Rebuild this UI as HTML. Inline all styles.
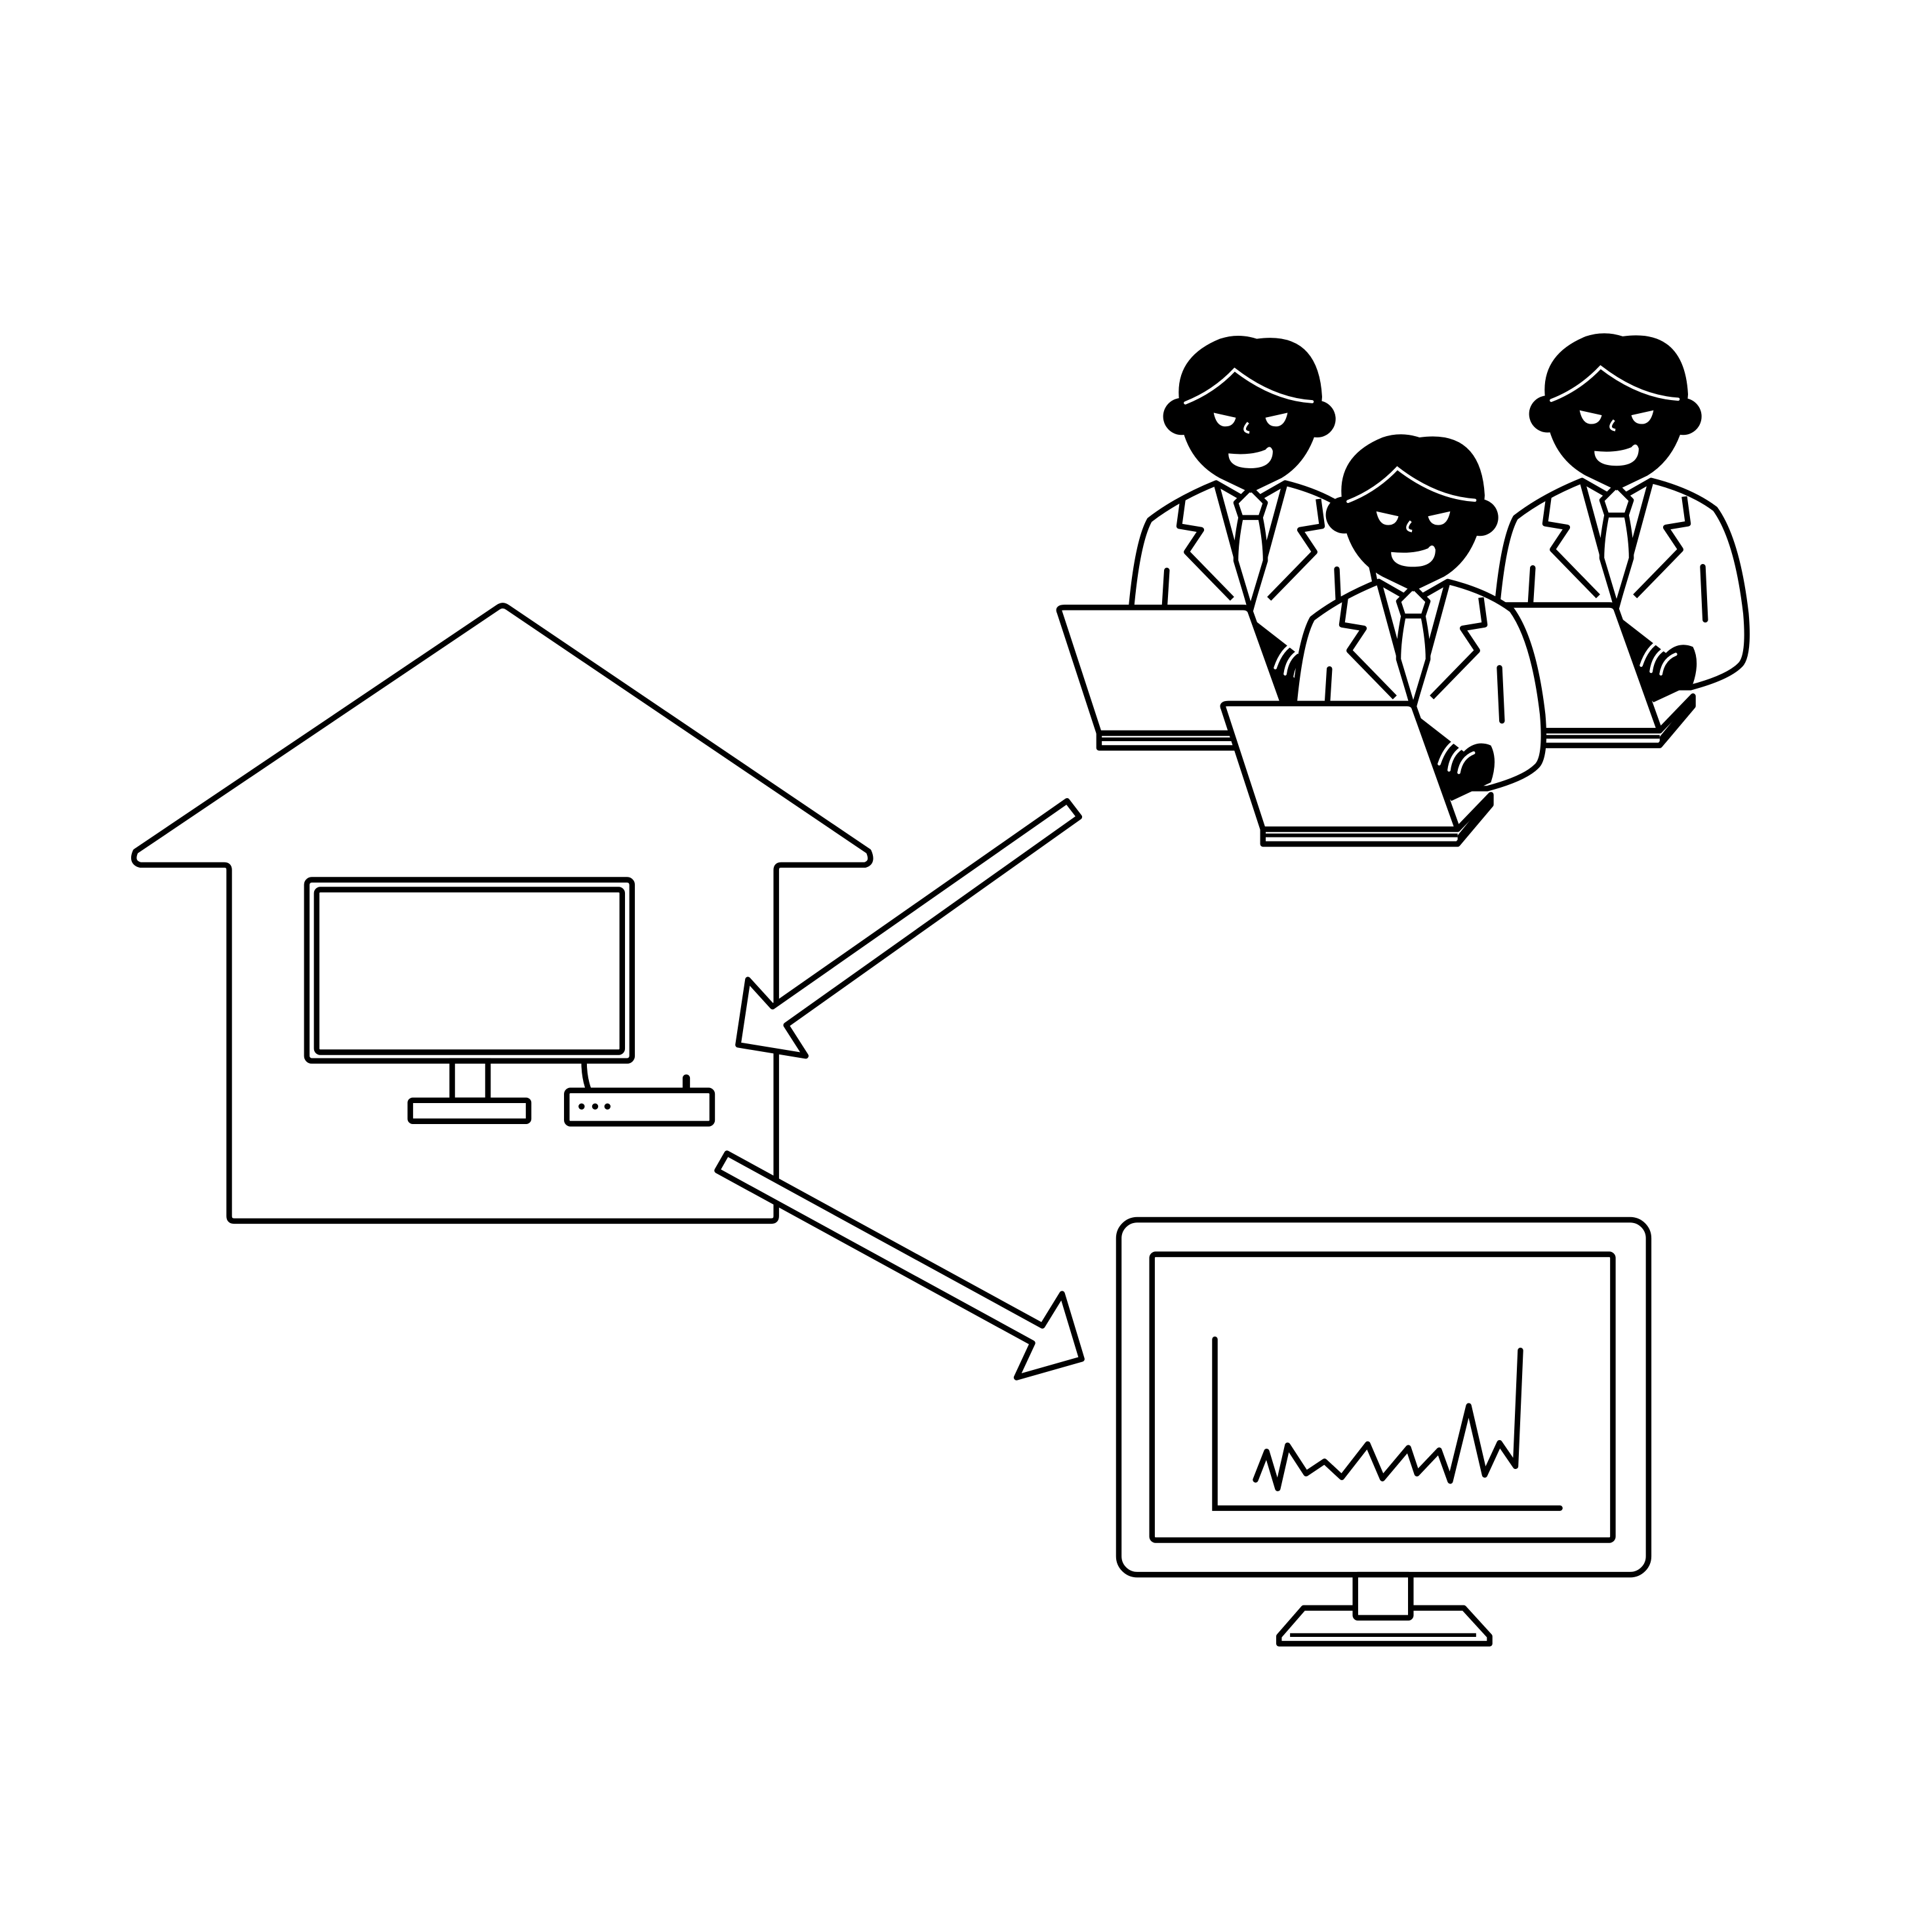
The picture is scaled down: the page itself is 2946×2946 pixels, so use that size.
<!DOCTYPE html>
<html><head><meta charset="utf-8"><style>html,body{margin:0;padding:0;background:#fff}svg{display:block}</style></head>
<body>
<svg width="2946" height="2946" viewBox="0 0 1568 1568" xmlns="http://www.w3.org/2000/svg">
<defs>
<g id="person">
  <path d="M-97,165 Q-92,110 -82,92 Q-60,75 -28,62 L0,78 L28,62 Q60,70 80,85 Q98,110 105,170 Q108,205 100,212 Q90,222 60,230 L-97,230 Z" fill="#fff" stroke="#000" stroke-width="4.5" stroke-linejoin="round"/>
  <path d="M-28,62 L0,165 L28,62" fill="none" stroke="#000" stroke-width="4.5" stroke-linejoin="round"/>
  <path d="M-55,75 L-58,97 L-40,100 L-52,118 L-15,156 M55,75 L58,97 L40,100 L52,118 L15,156" fill="none" stroke="#000" stroke-width="4.5" stroke-linejoin="round"/>
  <path d="M-12,78 L0,66 L12,78 L8,90 L-8,90 Z M-8,90 Q-12,110 -12,125 L0,165 L12,125 Q12,110 8,90" fill="#fff" stroke="#000" stroke-width="4" stroke-linejoin="round"/>
  <path d="M-68,133 L-70,165 M70,132 L72,175" stroke="#000" stroke-width="4.5" stroke-linecap="round"/>
  <circle cx="-56" cy="8" r="15" fill="#000"/>
  <circle cx="54" cy="10" r="15" fill="#000"/>
  <path d="M-58,-5 Q-62,-40 -25,-55 Q-10,-60 5,-55 Q55,-62 58,-8 Q55,40 25,58 L0,70 L-25,58 Q-58,40 -58,-5 Z" fill="#000"/>
  <path d="M-53,-3 Q-30,-12 -13,-30 Q18,-6 50,-4" fill="none" stroke="#fff" stroke-width="2.5" stroke-linecap="round"/>
  <path d="M-30,5 L-12,9 Q-14,17 -22,16 Q-28,15 -30,5 Z M30,5 L12,9 Q14,17 22,16 Q28,15 30,5 Z" fill="#fff"/>
  <path d="M-2,13 Q-8,20 -1,21" fill="none" stroke="#fff" stroke-width="2"/>
  <path d="M-18,38 Q0,40 12,35 Q16,30 18,36 Q18,50 0,50 Q-18,50 -18,38 Z" fill="#fff"/>
</g>
<g id="laptop">
  <path d="M-40,175 Q-20,168 -5,170 L40,205 Q50,195 62,200 Q68,212 62,230 L30,245 Z" fill="#000"/>
  <path d="M20,215 Q25,200 35,195 M28,220 Q30,205 42,200 M36,222 Q38,210 48,206" fill="none" stroke="#fff" stroke-width="2.5" stroke-linecap="round"/>
  <path d="M-123,268 L35,268 L62,240 L62,248 L35,280 L-123,280 Z" fill="#fff" stroke="#000" stroke-width="4.5" stroke-linejoin="round"/>
  <path d="M35,280 L62,248 L62,240 L35,273 Z" fill="#000"/>
  <line x1="-123" y1="273" x2="35" y2="273" stroke="#000" stroke-width="3"/>
  <path d="M-155,170 Q-157,166 -151,166 L-6,166 Q-1,166 0,170 L35,268 L-123,268 Z" fill="#fff" stroke="#000" stroke-width="4.5" stroke-linejoin="round"/>
</g>
</defs>

<path d="M114,702 Q106,700 110,691 L404,493 Q408,490 412,493 L705,691 Q709,700 702,702 L634,702 Q630,702 630,706 L630,987 Q630,991 626,991 L190,991 Q186,991 186,987 L186,706 Q186,702 182,702 Z" fill="#fff" stroke="#000" stroke-width="4.5" stroke-linejoin="round"/>
<rect x="249" y="714" width="264" height="147" rx="4" fill="#fff" stroke="#000" stroke-width="4.5"/>
<rect x="257" y="722" width="248" height="132" rx="3" fill="#fff" stroke="#000" stroke-width="4.5"/>
<rect x="367" y="861" width="29" height="32" fill="#fff" stroke="#000" stroke-width="4.5"/>
<rect x="333" y="893" width="96" height="17" rx="2" fill="#fff" stroke="#000" stroke-width="4.5"/>
<path d="M474,861 Q474,875 478,885" fill="none" stroke="#000" stroke-width="4.5"/>
<line x1="557" y1="875" x2="557" y2="885" stroke="#000" stroke-width="6" stroke-linecap="round"/>
<rect x="460" y="885" width="118" height="27" rx="3" fill="#fff" stroke="#000" stroke-width="4.5"/>
<circle cx="472" cy="898" r="2.5"/><circle cx="483" cy="898" r="2.5"/><circle cx="493" cy="898" r="2.5"/>

<polygon points="866,650 876,663 638,832 654,857 599,848 607,795 627,817" fill="#fff" stroke="#000" stroke-width="4.5" stroke-linejoin="round"/>
<polygon points="590,936 846,1076 862,1050 878,1103 825,1118 838,1090 582,950" fill="#fff" stroke="#000" stroke-width="4.5" stroke-linejoin="round"/>

<rect x="908" y="990" width="430" height="288" rx="15" fill="#fff" stroke="#000" stroke-width="4.5"/>
<rect x="935" y="1018" width="374" height="232" rx="3" fill="#fff" stroke="#000" stroke-width="4.5"/>
<path d="M1058,1305 L1188,1305 L1209,1328 L1209,1334 L1038,1334 L1038,1328 Z" fill="#fff" stroke="#000" stroke-width="4.5" stroke-linejoin="round"/>
<line x1="1047" y1="1327" x2="1198" y2="1327" stroke="#000" stroke-width="3"/>
<rect x="1100" y="1278" width="45" height="35" rx="2" fill="#fff" stroke="#000" stroke-width="4.5"/>
<path d="M986,1087 L986,1224 L1266,1224" fill="none" stroke="#000" stroke-width="4.5" stroke-linecap="round"/>
<polyline points="1019,1201 1028,1178 1037,1208 1045,1173 1060,1196 1075,1186 1089,1199 1110,1172 1122,1200 1143,1175 1150,1196 1168,1177 1177,1202 1192,1141 1205,1197 1217,1171 1230,1190 1234,1096" fill="none" stroke="#000" stroke-width="4.5" stroke-linejoin="round" stroke-linecap="round"/>

<use href="#person" transform="translate(1015,330)"/>
<use href="#laptop" transform="translate(1015,327)"/>
<use href="#person" transform="translate(1312,328)"/>
<use href="#laptop" transform="translate(1312,325)"/>
<use href="#person" transform="translate(1147,410)"/>
<use href="#laptop" transform="translate(1148,405)"/>
</svg>
</body></html>
